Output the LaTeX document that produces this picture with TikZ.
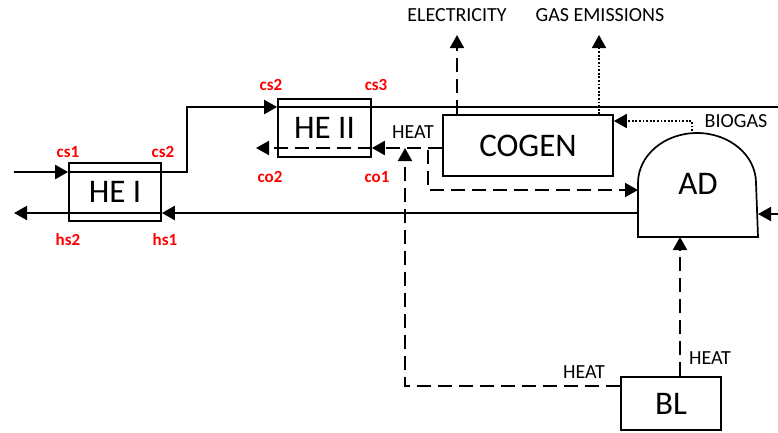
\documentclass[tikz,border=0pt]{standalone}
\usepackage{fontspec}
\setmainfont{Carlito}
\usetikzlibrary{arrows.meta}
\begin{document}
\begin{tikzpicture}[x=1pt,y=-1pt,
  line width=2pt,
  arr/.style={-{Triangle[length=13pt,width=14pt]}},
  dsh/.style={dash pattern=on 14pt off 7pt},
  dots/.style={line width=1.8pt,dash pattern=on 1.8pt off 1.8pt},
  box/.style={draw, line width=1.7pt, inner sep=0pt, font=\fontsize{33}{36}\selectfont},
  lab/.style={font=\fontsize{20}{22}\selectfont, inner sep=0pt},
  rlab/.style={font=\bfseries\fontsize{17}{19}\selectfont, text=red, inner sep=0pt}]
\useasboundingbox (0,0) rectangle (778,432);

% nodes
\node[box, minimum width=92pt, minimum height=58pt] (HEI) at (115,192) {HE I};
\node[box, minimum width=93pt, minimum height=58pt] (HEII) at (324.5,128) {HE II};
\node[box, minimum width=170pt, minimum height=61pt] (COGEN) at (528,145.5) {COGEN};
\node[box, minimum width=100pt, minimum height=53pt] (BL) at (671,403.5) {BL};
\node[inner sep=0pt, minimum width=118pt, minimum height=104pt, font=\fontsize{33}{36}\selectfont] (AD) at (698,184) {\raisebox{-8pt}{AD}};
\draw[line width=1.7pt] (AD.south west) -- ++(0,-54) arc[start angle=180, end angle=0, x radius=59pt, y radius=50pt] -- (AD.south east) -- cycle;

% cold stream
\coordinate (c0) at (14,172);
\coordinate (k1) at (187,172);
\coordinate (k2) at (187,107);
\coordinate (cE) at (778,107);
\draw[arr] (c0) -- (c0 -| HEI.west);
\draw[arr] (c0 -| HEI.west) -- (k1) -- (k2) -- (k2 -| HEII.west);
\draw (k2 -| HEII.west) -- (cE);

% hot stream
\coordinate (hL) at (14,213);
\draw[arr] (AD.west |- hL) -- (HEI.east |- hL);
\draw[arr] (HEI.east |- hL) -- (hL);
\coordinate (aR) at (778,214);
\draw[arr] (aR) -- (AD.east |- aR);

% cooling / heat
\coordinate (co) at (256,148);
\draw[dsh,arr] (COGEN.west |- co) -- (HEII.east |- co);
\draw[dsh,arr] (HEII.east |- co) -- (co);
\coordinate (j1) at (428,150);
\coordinate (j2) at (428,190);
\draw[dsh,arr] (j1) -- (j2) -- (AD.west |- j2);
\coordinate (b1) at (405,386);
\draw[dsh,arr] (BL.west |- b1) -- (b1) -- (b1 |- co);
\coordinate (b2) at (680,236);
\draw[dsh,arr] (BL.north -| b2) -- (AD.south -| b2);

% outputs
\coordinate (el) at (457,35);
\draw[dsh,arr] (COGEN.north -| el) -- (el);
\coordinate (ge) at (599,35);
\draw[dots,arr] (COGEN.north -| ge) -- (ge);
\coordinate (bg) at (692,121);
\draw[dots,arr] (bg |- AD.north) -- (bg) -- (COGEN.east |- bg);

% labels
\node[lab] (tEl) at (457,15) {ELECTRICITY};
\node[lab] (tGe) at (600,15) {GAS EMISSIONS};
\node[lab] (tBg) at (736,121) {BIOGAS};
\node[lab] (tH1) at (413,132) {HEAT};
\node[lab] (tH2) at (584,372) {HEAT};
\node[lab] (tH3) at (710,358) {HEAT};

\node[rlab] (r1) at (68,152) {cs1};
\node[rlab] (r2) at (163,152) {cs2};
\node[rlab] (r3) at (68,240) {hs2};
\node[rlab] (r4) at (165,240) {hs1};
\node[rlab] (r5) at (271,85) {cs2};
\node[rlab] (r6) at (376,85) {cs3};
\node[rlab] (r7) at (270,177) {co2};
\node[rlab] (r8) at (377,177) {co1};
\end{tikzpicture}
\end{document}
